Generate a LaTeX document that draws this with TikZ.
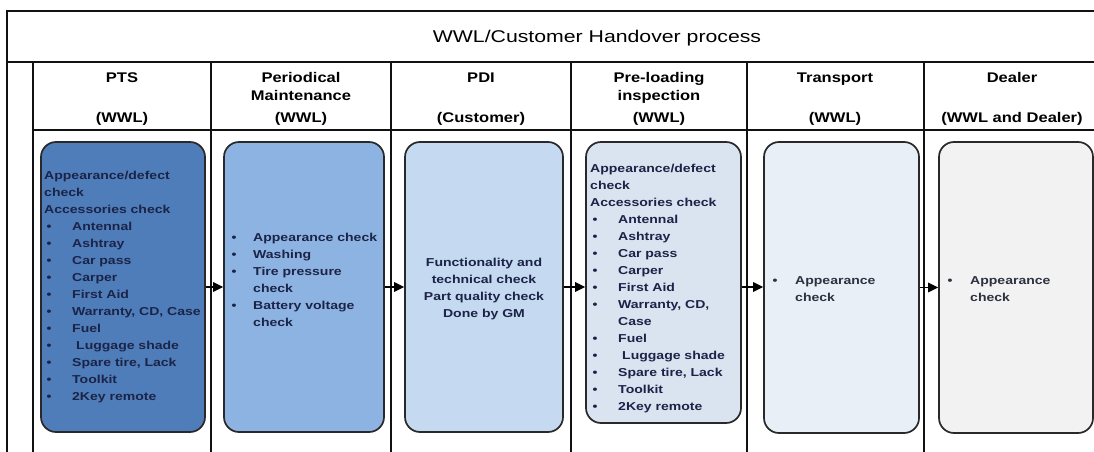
\documentclass[tikz,border=0pt]{standalone}
\usepackage{fontspec}
\usetikzlibrary{arrows.meta}
\setmainfont{Liberation Sans}
\newfontfamily\titlefont[FakeStretch=1.25]{Liberation Sans}
\newfontfamily\headfont[FakeStretch=1.18]{Liberation Sans Bold}
\newfontfamily\boxfont[FakeStretch=1.22]{Liberation Sans Bold}

\definecolor{rule}{HTML}{111111}
\definecolor{ink}{HTML}{1B2447}
\definecolor{inkgray}{HTML}{2E3140}
\definecolor{stageA}{HTML}{4F7DBA}
\definecolor{stageB}{HTML}{8DB3E2}
\definecolor{stageC}{HTML}{C5D9F1}
\definecolor{stageD}{HTML}{DAE3F0}
\definecolor{stageE}{HTML}{E9EFF7}
\definecolor{stageF}{HTML}{F2F2F2}

% bullet list helpers: \itemw is the gap from line start to item text
\newlength\itemw
\newcommand\bul[1]{\makebox[\itemw][l]{\hspace{2.5pt}\textbullet}#1}
\newcommand\cont[1]{\hspace*{\itemw}#1}

\tikzset{
  grid/.style={draw=rule, line width=1.2pt},
  stagebox/.style={draw=rule!90, line width=1.7pt, rounded corners=15pt,
    inner sep=0pt},
  % anchored at the baseline of the last heading line
  headtext/.style={font=\headfont\fontsize{14}{18}\selectfont, align=center,
    inner sep=0pt, anchor=base, text=black},
  listtext/.style={font=\boxfont\fontsize{11.5}{17}\selectfont, text width=200pt,
    align=left, inner sep=0pt, anchor=base west, text=ink,
    execute at begin node={\setlength\itemw{#1}}},
  flow/.style={draw=black, line width=1.5pt,
    -{Triangle[length=10pt,width=9.5pt]}},
}

\begin{document}
\begin{tikzpicture}[x=1pt, y=-1pt]
\useasboundingbox (0,0) rectangle (1094,452);
\fill[white] (0,0) rectangle (1094,452);

% table frame
\draw[grid] (1094,11) -- (7,11) -- (7,452);
\draw[grid] (7,62) -- (1094,62);
\draw[grid] (33,62) -- (33,452);
\draw[grid] (33,130) -- (1094,130);
\foreach \xx in {211,391,571,747,924}
  \draw[grid] (\xx,62) -- (\xx,452);

% title
\node[font=\titlefont\fontsize{17}{20}\selectfont, anchor=base, inner sep=0pt]
  (title) at (597,42) {WWL/Customer Handover process};

% column headings
\node[headtext] (h1) at (122,122) {PTS\\[22pt](WWL)};
\node[headtext] (h2) at (301,122) {Periodical\\Maintenance\\[4pt](WWL)};
\node[headtext] (h3) at (481,122) {PDI\\[22pt](Customer)};
\node[headtext] (h4) at (659,122) {Pre-loading\\inspection\\[4pt](WWL)};
\node[headtext] (h5) at (835,122) {Transport\\[22pt](WWL)};
\node[headtext] (h6) at (1012,122) {Dealer\\[22pt](WWL and Dealer)};

% stage boxes
\node[stagebox, fill=stageA, minimum width=164pt, minimum height=290pt] (b1) at (123,287) {};
\node[stagebox, fill=stageB, minimum width=160pt, minimum height=290pt] (b2) at (304,287) {};
\node[stagebox, fill=stageC, minimum width=158pt, minimum height=290pt] (b3) at (484,287) {};
\node[stagebox, fill=stageD, minimum width=155pt, minimum height=281pt] (b4) at (663.5,282.5) {};
\node[stagebox, fill=stageE, minimum width=155pt, minimum height=291pt] (b5) at (841.5,287.5) {};
\node[stagebox, fill=stageF, minimum width=154pt, minimum height=291pt] (b6) at (1016,287.5) {};

% box contents
\node[listtext=28pt] (t1) at (44,179) {%
  Appearance/defect\\check\\Accessories check\\
  \bul{Antennal}\\\bul{Ashtray}\\\bul{Car pass}\\\bul{Carper}\\
  \bul{First Aid}\\\bul{Warranty, CD, Case}\\\bul{Fuel}\\
  \bul{\hspace{4pt}Luggage shade}\\\bul{Spare tire, Lack}\\
  \bul{Toolkit}\\\bul{2Key remote}};

\node[listtext=24pt] (t2) at (229,241) {%
  \bul{Appearance check}\\\bul{Washing}\\\bul{Tire pressure}\\
  \cont{check}\\\bul{Battery voltage}\\\cont{check}};

% centred block, anchored at the baseline of its last line
\node[font=\boxfont\fontsize{11.5}{17}\selectfont, align=center, inner sep=0pt,
  anchor=base, text=ink] (t3) at (484,317) {%
  Functionality and\\technical check\\Part quality check\\Done by GM};

\node[listtext=28pt] (t4) at (590,172) {%
  Appearance/defect\\check\\Accessories check\\
  \bul{Antennal}\\\bul{Ashtray}\\\bul{Car pass}\\\bul{Carper}\\
  \bul{First Aid}\\\bul{Warranty, CD,}\\\cont{Case}\\\bul{Fuel}\\
  \bul{\hspace{4pt}Luggage shade}\\\bul{Spare tire, Lack}\\
  \bul{Toolkit}\\\bul{2Key remote}};

\node[listtext=25pt, text=inkgray] (t5) at (770,284) {%
  \bul{Appearance}\\\cont{check}};

\node[listtext=25pt, text=inkgray] (t6) at (945,284) {%
  \bul{Appearance}\\\cont{check}};

% hand-over arrows
\draw[flow] (b1.east) -- (b2.west);
\draw[flow] (b2.east) -- (b3.west);
\draw[flow] (b3.east) -- (b3.east -| b4.west);
\draw[flow] (b3.east -| b4.east) -- (b3.east -| b5.west);
\draw[flow] (b5.east) -- (b6.west);
\end{tikzpicture}
\end{document}
